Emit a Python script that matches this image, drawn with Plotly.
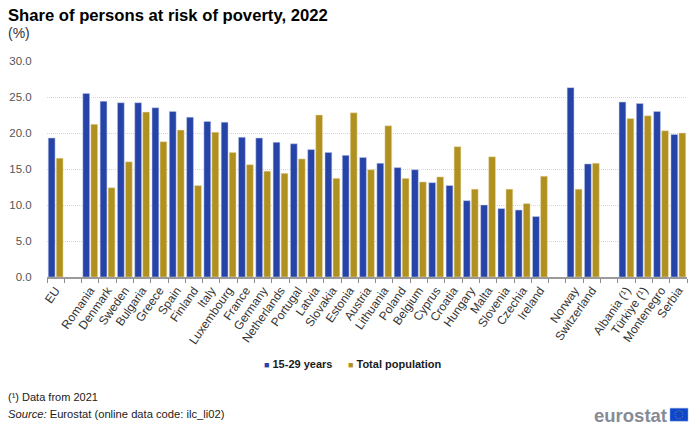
import math
import plotly.graph_objects as go

countries = ["EU", " ", "Romania", "Denmark", "Sweden", "Bulgaria", "Greece", "Spain", "Finland", "Italy",
             "Luxembourg", "France", "Germany", "Netherlands", "Portugal", "Latvia", "Slovakia", "Estonia",
             "Austria", "Lithuania", "Poland", "Belgium", "Cyprus", "Croatia", "Hungary", "Malta", "Slovenia",
             "Czechia", "Ireland", "  ", "Norway", "Switzerland", "   ", "Albania (¹)", "Türkiye (¹)",
             "Montenegro", "Serbia"]
youth = [19.3, None, 25.5, 24.4, 24.2, 24.2, 23.5, 23.0, 22.2, 21.6,
         21.5, 19.4, 19.3, 18.7, 18.5, 17.7, 17.3, 16.9,
         16.6, 15.8, 15.2, 14.9, 13.1, 12.7, 10.6, 10.0, 9.5,
         9.3, 8.4, None, 26.3, 15.7, None, 24.3, 24.1,
         23.0, 19.8]
total = [16.5, None, 21.2, 12.4, 16.0, 22.9, 18.8, 20.4, 12.7, 20.1,
         17.3, 15.6, 14.7, 14.4, 16.4, 22.5, 13.7, 22.8,
         14.9, 21.0, 13.7, 13.2, 13.9, 18.1, 12.2, 16.7, 12.2,
         10.2, 14.0, None, 12.2, 15.8, None, 22.0, 22.4,
         20.3, 20.0]
y_ticks = [0, 5, 10, 15, 20, 25, 30]

BLUE = "#2644a7"
GOLD = "#b09120"
W, H = 700, 428
LEFT, RIGHT, TOP, BOTTOM = 46.5, 13, 61, 150.5


def px(x):
    return (x - LEFT) / (W - LEFT - RIGHT)


def py(y):
    return (H - BOTTOM - y) / (H - TOP - BOTTOM)


def note(x, y, text, size=11, color="#1a1a1a", anchor="left"):
    return dict(x=px(x), y=py(y), xref="paper", yref="paper", text=text, showarrow=False,
                xanchor=anchor, yanchor="middle", align="left", font=dict(size=size, color=color))


fig = go.Figure()
fig.add_bar(x=countries, y=youth, name="15-29 years", marker=dict(color=BLUE, line=dict(width=0.5, color="#c5cdea")))
fig.add_bar(x=countries, y=total, name="Total population", marker=dict(color=GOLD, line=dict(width=0.5, color="#eadfb5")))

annotations = [
    note(5, 15, "<b>Share of persons at risk of poverty, 2022</b>", size=16.65, color="#000000"),
    note(5, 33, "(%)", size=14, color="#333333"),
    note(262, 365, f"<span style='color:{BLUE};font-size:9px'>■</span> <b>15-29 years</b>"),
    note(346, 365, f"<span style='color:{GOLD};font-size:9px'>■</span> <b>Total population</b>"),
    note(5, 398, "(¹) Data from 2021"),
    note(5, 415, "<i>Source:</i> Eurostat (online data code: ilc_li02)", size=11.2),
    note(669, 416, "<b>eurostat</b>", size=18.5, color="#868b96", anchor="right"),
]

# flag in the logo
shapes = [dict(type="rect", xref="paper", yref="paper", x0=px(670), x1=px(688), y0=py(422), y1=py(409),
               fillcolor="#0e47cb", line=dict(width=0.5, color="#8fa8e0"))]
for i in range(12):
    a = i * math.pi / 6
    cx, cy = 679 + 4 * math.cos(a), 415.5 + 4 * math.sin(a)
    shapes.append(dict(type="circle", xref="paper", yref="paper", x0=px(cx - 0.4), x1=px(cx + 0.4),
                       y0=py(cy + 0.4), y1=py(cy - 0.4), fillcolor="#ffd617", line=dict(width=0)))

fig.update_layout(
    width=W, height=H,
    margin=dict(l=LEFT, r=RIGHT, t=TOP, b=BOTTOM, pad=0),
    paper_bgcolor="white", plot_bgcolor="white",
    font=dict(family="Liberation Sans, Arial, sans-serif", size=12, color="#333333"),
    barmode="group", bargap=0.075, bargroupgap=0.15,
    showlegend=False,
    annotations=annotations, shapes=shapes,
)
fig.update_xaxes(type="category", categoryorder="array", categoryarray=countries, tickson="boundaries",
                 ticks="outside", ticklen=4, tickcolor="#8a8a8a", showline=True, linecolor="#9a9a9a", linewidth=1.5,
                 tickangle=-55, tickfont=dict(size=12, color="#333333"), showgrid=False, automargin=False)
fig.update_yaxes(range=[0, 30], tickvals=y_ticks, tickformat=".1f", gridcolor="#d6d6d6", griddash="1px,1px",
                 gridwidth=1, zeroline=False, ticks="outside", ticklen=12, tickcolor="rgba(0,0,0,0)",
                 tickfont=dict(size=11.5, color="#555555"), automargin=False)

fig.write_html("out.html", config={"displayModeBar": False}, post_script="document.body.style.margin='0';")
